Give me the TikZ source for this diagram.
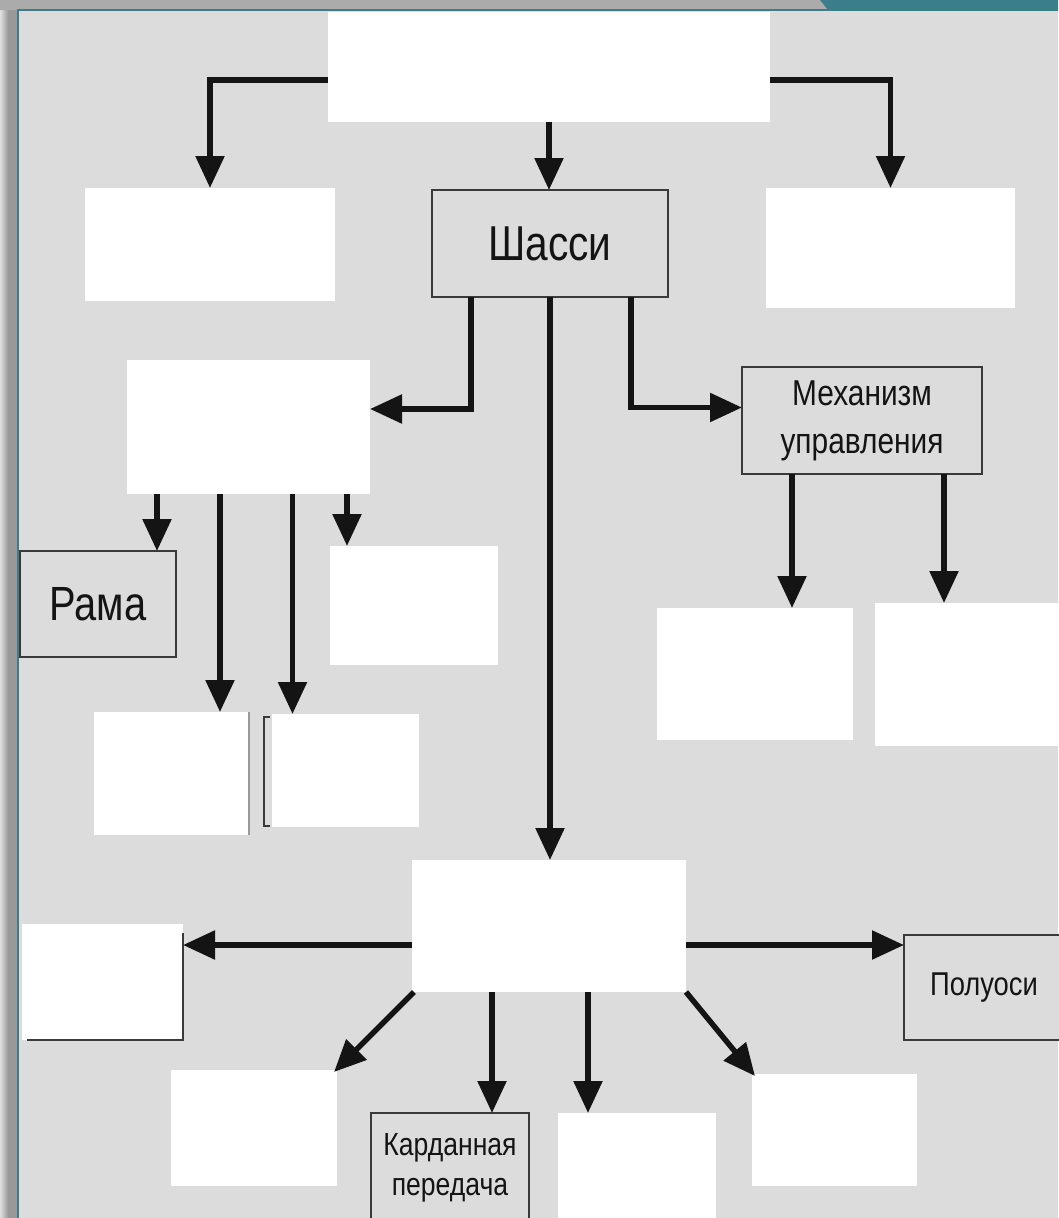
\documentclass[tikz,border=0pt]{standalone}
\usepackage{fontspec}
\newfontfamily\lab[FakeStretch=0.83]{Liberation Sans}
\usetikzlibrary{arrows.meta,calc}
\definecolor{bg}{HTML}{DCDCDC}
\definecolor{tealA}{HTML}{3B7D8A}
\definecolor{ink}{HTML}{141414}
\definecolor{edge}{HTML}{3A3A3A}
\begin{document}
\begin{tikzpicture}[x=1pt,y=-1pt,
  wbox/.style={fill=white,inner sep=0pt,outer sep=0pt,anchor=north west},
  gbox/.style={fill=bg,draw=edge,line width=2pt,inner sep=0pt,outer sep=0pt,anchor=north west,text=ink,align=center},
  arr/.style={draw=ink,line width=5.5pt,line join=miter,-{Triangle[length=32pt,width=28pt]}}]
\useasboundingbox (0,0) rectangle (1058,1218);
% background and frame
\fill[bg] (0,0) rectangle (1058,1218);
\shade[left color=black!12,right color=black!40] (0,0) rectangle (8,1218);
\fill[black!40] (8,0) rectangle (17,1218);
\fill[black!33] (0,0) -- (820,0) -- (828,10) -- (0,10) -- cycle;
\fill[tealA] (820,0) -- (1058,0) -- (1058,10) -- (828,10) -- cycle;
\fill[tealA] (17,9) rectangle (1058,11);
\fill[tealA] (17,9) rectangle (19,1218);
% nodes
\node[wbox,minimum width=442pt,minimum height=110pt] (top) at (328,12) {};
\node[wbox,minimum width=250pt,minimum height=113pt] (A) at (85,188) {};
\node[gbox,minimum width=236pt,minimum height=107pt,font=\lab\fontsize{49}{56}\selectfont] (shassi) at (432,190) {Шасси};
\node[wbox,minimum width=249pt,minimum height=120pt] (B) at (766,188) {};
\node[wbox,minimum width=243pt,minimum height=134pt] (C) at (127,360) {};
\node[gbox,minimum width=240pt,minimum height=107pt,font=\lab\fontsize{36}{48}\selectfont] (mech) at (742,367) {Механизм\\управления};
\node[gbox,minimum width=156pt,minimum height=106pt,font=\lab\fontsize{48}{56}\selectfont] (rama) at (20,551) {Рама};
\node[wbox,minimum width=168pt,minimum height=119pt] (E) at (330,546) {};
\node[wbox,minimum width=154pt,minimum height=123pt] (F) at (94,712) {};
\node[wbox,minimum width=147pt,minimum height=113pt] (G) at (272,714) {};
\node[wbox,minimum width=196pt,minimum height=132pt] (H) at (657,608) {};
\node[wbox,minimum width=190pt,minimum height=143pt] (I) at (875,603) {};
\node[wbox,minimum width=274pt,minimum height=132pt] (D) at (412,860) {};
\node[wbox,minimum width=161pt,minimum height=116pt] (J) at (22,924) {};
\node[gbox,minimum width=160pt,minimum height=105pt,font=\lab\fontsize{33}{40}\selectfont] (pol) at (904,935) {Полуоси};
\node[gbox,minimum width=158pt,minimum height=110pt,font=\lab\fontsize{32}{40}\selectfont] (kard) at (371,1113) {Карданная\\передача};
\node[wbox,minimum width=166pt,minimum height=116pt] (K) at (171,1070) {};
\node[wbox,minimum width=158pt,minimum height=110pt] (L) at (558,1113) {};
\node[wbox,minimum width=165pt,minimum height=112pt] (M) at (752,1074) {};
% small edge details
\draw[black!40,line width=1.5pt] ([xshift=1pt]F.north east) -- ([xshift=1pt]F.south east);
\draw[edge,line width=2pt] ([xshift=-2pt,yshift=-3pt]G.north west) -- ([xshift=-8pt,yshift=-3pt]G.north west) -- ([xshift=-8pt,yshift=1pt]G.south west) -- ([xshift=-2pt,yshift=1pt]G.south west);
\draw[edge,line width=2pt] ([yshift=-9pt]J.north east) -- (J.south east) -- ([xshift=5pt]J.south west);
% connectors
\draw[arr] ([yshift=-13pt]top.west) -| (A.north);
\draw[arr] ([yshift=-13pt]top.east) -| (B.north);
\draw[arr] (top.south) -- (top.south |- shassi.north);
\draw[arr] ([xshift=-79pt]shassi.south) |- ([yshift=18pt]C.east);
\draw[arr] ([xshift=81pt]shassi.south) |- ([yshift=13pt]mech.west);
\draw[arr] (shassi.south) -- (shassi.south |- D.north);
\coordinate (c1) at ([xshift=59pt]rama.north);
\coordinate (c2) at ([xshift=49pt]F.north);
\coordinate (c3) at ([xshift=-53pt]G.north);
\coordinate (c4) at ([xshift=-67pt]E.north);
\draw[arr] (C.south -| c1) -- (c1);
\draw[arr] (C.south -| c2) -- (c2);
\draw[arr] (C.south -| c3) -- (c3);
\draw[arr] (C.south -| c4) -- (c4);
\coordinate (m1) at ([xshift=37pt]H.north);
\coordinate (m2) at ([xshift=-26pt]I.north);
\draw[arr] (mech.south -| m1) -- (m1);
\draw[arr] (mech.south -| m2) -- (m2);
\coordinate (d1) at ([yshift=-19pt]D.west);
\coordinate (d2) at ([yshift=-19pt]D.east);
\draw[arr] (d1) -- (J.east |- d1);
\draw[arr] (d2) -- (pol.west |- d2);
\draw[arr] ([xshift=2pt]D.south west) -- ([xshift=-3pt,yshift=-2pt]K.north east);
\coordinate (k1) at ([xshift=42pt]kard.north);
\coordinate (l1) at ([xshift=-49pt]L.north);
\draw[arr] (D.south -| k1) -- (k1);
\draw[arr] (D.south -| l1) -- (l1);
\draw[arr] (D.south east) -- ([xshift=3pt,yshift=-2pt]M.north west);
\end{tikzpicture}
\end{document}
